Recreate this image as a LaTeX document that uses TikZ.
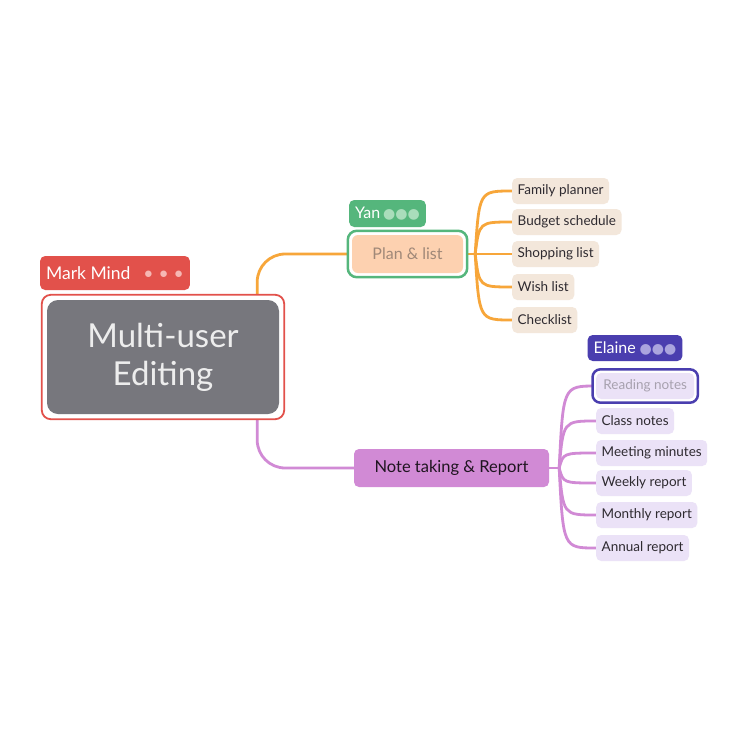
\documentclass[tikz,border=0pt]{standalone}
\usepackage{fontspec}
\setmainfont{Lato}
\newfontfamily\dotfont{DejaVu Sans}
\usepackage{tikz}
\usetikzlibrary{backgrounds,fit}

\definecolor{markred}{HTML}{E2514B}
\definecolor{markdots}{HTML}{F6B7B3}
\definecolor{rootgray}{HTML}{77777D}
\definecolor{planline}{HTML}{F7A63A}
\definecolor{yangreen}{HTML}{55B67C}
\definecolor{yandots}{HTML}{A9DDBB}
\definecolor{planfill}{HTML}{FDD1B0}
\definecolor{plantext}{HTML}{A08878}
\definecolor{leafbeige}{HTML}{F3E7DB}
\definecolor{noteline}{HTML}{D18AD5}
\definecolor{elaineblue}{HTML}{4A3EAF}
\definecolor{elainedots}{HTML}{AAA4DE}
\definecolor{leaflilac}{HTML}{EBE2F7}
\definecolor{readtext}{HTML}{A7A1AE}
\definecolor{leaftext}{HTML}{2E2A30}

\begin{document}
\begin{tikzpicture}[x=1pt, y=-1pt]
    	\tikzstyle{leaf}=[rounded corners=5pt, minimum height=26pt, inner xsep=5.5pt, inner ysep=0pt, anchor=west, text=leaftext, font=\fontsize{13.5}{16}\selectfont]
    	\tikzstyle{tag}=[rounded corners=5pt, text=white, inner xsep=6pt, inner ysep=0pt]
    	\tikzstyle{ring}=[rounded corners=9pt, fill=white, line width=2.5pt]
    	\tikzstyle{branch}=[line width=2.8pt, line cap=round]

    	\useasboundingbox (0,0) rectangle (750,750);

    	% Root
    	\node[fill=rootgray, rounded corners=11pt, minimum width=232pt, minimum height=114pt, align=center, text=white!93!black, font=\fontsize{33}{38}\selectfont] at (163,357) (root) {Multi-user\\Editing};
    	\node[tag, fill=markred, minimum height=34pt, font=\fontsize{17.5}{20}\selectfont] at (115,273) (mark) {Mark Mind\hspace{13pt}{\color{markdots}\textbullet\hspace{5pt}\textbullet\hspace{5pt}\textbullet}};

    	% Plan & list
    	\node[fill=planfill, rounded corners=6pt, minimum width=111pt, minimum height=38pt, text=plantext, font=\fontsize{16}{18}\selectfont] at (407.5,254) (plan) {Plan \& list};
    	\node[tag, fill=yangreen, minimum height=27pt, font=\fontsize{16}{18}\selectfont] at (387.5,213.5) (yan) {Yan\hspace{3pt}{\dotfont\fontsize{14}{14}\selectfont\color{yandots}●●●}};
    	\foreach \y/\t [count=\i] in {191/Family planner, 222/Budget schedule, 254/Shopping list, 287/Wish list, 320/Checklist}
    		\node[leaf, fill=leafbeige] at (512,\y) (plan_\i) {\t};

    	% Note taking & Report
    	\node[fill=noteline, rounded corners=5pt, minimum width=195pt, minimum height=38pt, text=black!85!noteline, font=\fontsize{16.5}{18}\selectfont] at (451.5,468) (note) {Note taking \& Report};
    	\node[tag, fill=elaineblue, minimum height=26pt, font=\fontsize{16}{18}\selectfont] at (635,348) (elaine) {Elaine\hspace{4pt}{\dotfont\fontsize{14}{14}\selectfont\color{elainedots}●●●}};
    	\node[leaf, fill=leaflilac, text=readtext, minimum width=98pt] at (596,386) (note_1) {Reading notes};
    	\foreach \y/\t [count=\i from 2] in {421/Class notes, 453/Meeting minutes, 483/Weekly report, 515/Monthly report, 548/Annual report}
    		\node[leaf, fill=leaflilac] at (596,\y) (note_\i) {\t};

		%----------------------------------------------------%
		%                  connect topics    	             %
		%----------------------------------------------------%
    	\begin{scope}[on background layer]
    		\fill[white] (0,0) rectangle (750,750);

    		% Root -> topics
    		\draw[branch, planline, rounded corners=28pt] ([xshift=-22pt]root.north east) |- (plan.west);
    		\draw[branch, noteline, rounded corners=28pt] ([xshift=-22pt]root.south east) |- (note.west);

    		% Plan & list -> leaves
    		\coordinate (plan_hub) at ([xshift=12pt]plan.east);
    		\draw[branch, planline] (plan.east) -- (plan_hub);
    		\foreach \i in {1,...,5}
    			\draw[branch, planline] (plan_hub) .. controls ([xshift=4pt]plan_hub |- plan_\i.west) .. (plan_\i.west);

    		% Note taking -> leaves
    		\coordinate (note_hub) at ([xshift=10pt]note.east);
    		\draw[branch, noteline] (note.east) -- (note_hub);
    		\foreach \i in {1,...,6}
    			\draw[branch, noteline] (note_hub) .. controls ([xshift=4pt]note_hub |- note_\i.west) .. (note_\i.west);

    		% Selection rings
    		\node[ring, draw=markred, line width=1.8pt, inner sep=5pt, fit=(root)] (root_ring) {};
    		\node[ring, draw=yangreen, inner sep=4pt, fit=(plan)] (plan_ring) {};
    		\node[ring, draw=elaineblue, inner sep=3.5pt, rounded corners=8pt, fit=(note_1)] (read_ring) {};
    	\end{scope}
\end{tikzpicture}
\end{document}
